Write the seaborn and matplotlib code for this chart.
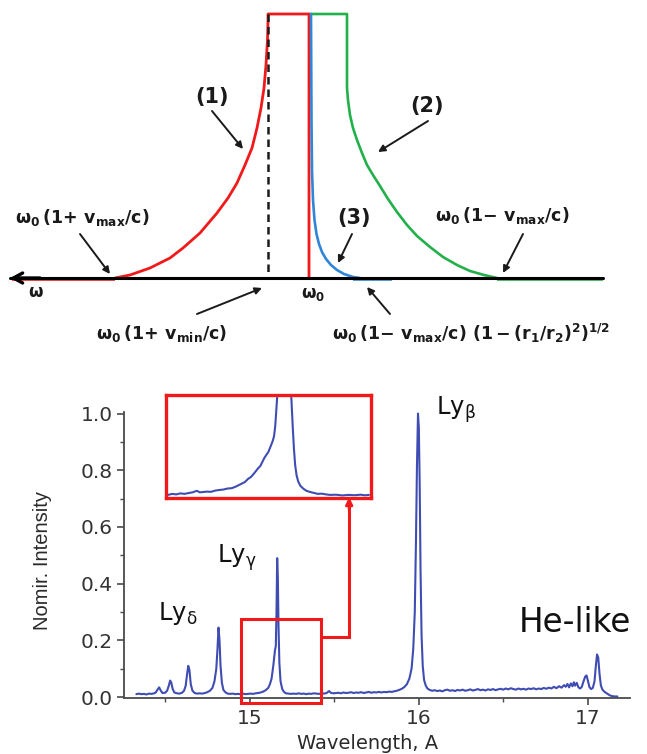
import matplotlib
matplotlib.use("Agg")
import matplotlib.pyplot as plt
import seaborn as sns
from matplotlib.patches import Rectangle
from matplotlib.ticker import MultipleLocator, FixedLocator

wavelength = [14.33, 14.345, 14.36, 14.375, 14.39, 14.405, 14.42, 14.435, 14.445,
              14.455, 14.465, 14.475, 14.485, 14.50, 14.512,
              14.522, 14.530, 14.537, 14.545, 14.555, 14.57, 14.585, 14.60, 14.612,
              14.622, 14.630, 14.637, 14.644, 14.652, 14.662, 14.675, 14.69, 14.705, 14.72,
              14.735, 14.75, 14.765, 14.78,
              14.792, 14.803, 14.810, 14.816, 14.822, 14.828, 14.836, 14.845, 14.858, 14.87,
              14.885, 14.90, 14.915, 14.93, 14.945, 14.96, 14.975, 14.99, 15.005, 15.02,
              15.035, 15.05, 15.065, 15.08, 15.095, 15.11, 15.12, 15.13, 15.14, 15.150,
              15.155, 15.159, 15.163, 15.167, 15.171, 15.176, 15.183, 15.193, 15.203, 15.215,
              15.23, 15.245, 15.26, 15.275, 15.29, 15.305, 15.32, 15.335, 15.35, 15.365,
              15.38, 15.395, 15.41, 15.425, 15.44, 15.455, 15.47, 15.48, 15.495, 15.51,
              15.525, 15.54, 15.555, 15.57, 15.585, 15.60, 15.615, 15.63, 15.645, 15.66,
              15.675, 15.69, 15.705, 15.72, 15.735, 15.75, 15.765, 15.78, 15.795, 15.81,
              15.825, 15.84, 15.855, 15.87, 15.885, 15.90, 15.915, 15.93, 15.945, 15.958,
              15.968, 15.977, 15.984, 15.990, 15.996, 16.001, 16.006, 16.011, 16.017, 16.024,
              16.032, 16.042, 16.052, 16.065, 16.08, 16.095, 16.11, 16.125, 16.14, 16.155,
              16.17, 16.185, 16.20, 16.215, 16.23, 16.245, 16.26, 16.275, 16.29, 16.305,
              16.32, 16.335, 16.35, 16.365, 16.38, 16.395, 16.41, 16.425, 16.44, 16.455,
              16.47, 16.485, 16.50, 16.515, 16.53, 16.545, 16.56, 16.575, 16.59, 16.605,
              16.62, 16.635, 16.65, 16.665, 16.68, 16.695, 16.71, 16.725, 16.74, 16.755,
              16.77, 16.785, 16.80, 16.815, 16.83, 16.845, 16.86, 16.87, 16.88, 16.89,
              16.90, 16.91, 16.918, 16.925, 16.935, 16.945, 16.955, 16.965, 16.975, 16.985,
              16.993, 17.0, 17.01, 17.02, 17.03, 17.04, 17.048, 17.055, 17.062, 17.07,
              17.078, 17.088, 17.10, 17.115, 17.13, 17.145, 17.16, 17.175]
intensity = [0.010, 0.012, 0.010, 0.011, 0.009, 0.012, 0.011, 0.013, 0.016,
             0.026, 0.034, 0.022, 0.014, 0.015, 0.022,
             0.040, 0.058, 0.050, 0.028, 0.016, 0.013, 0.012, 0.015, 0.022,
             0.040, 0.080, 0.110, 0.095, 0.045, 0.022, 0.014, 0.012, 0.013, 0.012,
             0.014, 0.017, 0.022, 0.032,
             0.055, 0.100, 0.170, 0.245, 0.200, 0.110, 0.050, 0.025, 0.016, 0.012,
             0.011, 0.012, 0.010, 0.011, 0.010, 0.012, 0.010, 0.011, 0.012, 0.011,
             0.013, 0.014, 0.016, 0.019, 0.024, 0.032, 0.045, 0.065, 0.110, 0.165,
             0.180, 0.300, 0.490, 0.420, 0.250, 0.120, 0.055, 0.028, 0.018, 0.013,
             0.012, 0.011, 0.012, 0.011, 0.013, 0.011, 0.012, 0.010, 0.012, 0.011,
             0.013, 0.012, 0.011, 0.013, 0.012, 0.014, 0.021, 0.015, 0.013, 0.014,
             0.015, 0.013, 0.016, 0.014, 0.015, 0.017, 0.014, 0.016, 0.015, 0.017,
             0.014, 0.016, 0.018, 0.015, 0.017, 0.016, 0.018, 0.016, 0.018, 0.017,
             0.019, 0.018, 0.020, 0.022, 0.025, 0.029, 0.035, 0.045, 0.065, 0.100,
             0.170, 0.300, 0.550, 0.820, 1.000, 0.950, 0.750, 0.450, 0.220, 0.110,
             0.060, 0.040, 0.030, 0.025, 0.022, 0.024, 0.021, 0.023, 0.020, 0.024,
             0.026, 0.022, 0.024, 0.021, 0.025, 0.023, 0.026, 0.022, 0.024, 0.027,
             0.023, 0.025, 0.028, 0.024, 0.026, 0.023, 0.027, 0.025, 0.028, 0.024,
             0.027, 0.029, 0.026, 0.030, 0.027, 0.031, 0.028, 0.026, 0.030, 0.027,
             0.029, 0.026, 0.030, 0.028, 0.031, 0.027, 0.030, 0.028, 0.032, 0.029,
             0.033, 0.030, 0.036, 0.031, 0.038, 0.033, 0.042, 0.036, 0.046, 0.034,
             0.048, 0.038, 0.052, 0.040, 0.050, 0.034, 0.030, 0.036, 0.055, 0.072,
             0.076, 0.060, 0.035, 0.028, 0.032, 0.055, 0.110, 0.150, 0.140, 0.080,
             0.040, 0.025, 0.018, 0.012, 0.006, 0.003, 0.002, 0.002]

# zoomed view of the Ly-gamma line (relative position / relative intensity)
inset_pos = [0.01, 0.03, 0.05, 0.07, 0.09, 0.11, 0.13, 0.15, 0.165, 0.18,
             0.20, 0.22, 0.24, 0.26, 0.28, 0.30, 0.32, 0.34, 0.355, 0.37,
             0.385, 0.40, 0.415, 0.43, 0.44, 0.45, 0.46, 0.47, 0.48, 0.49,
             0.50, 0.51, 0.52, 0.527, 0.533, 0.538, 0.543, 0.55, 0.57, 0.59,
             0.605, 0.612, 0.618, 0.624, 0.63, 0.637, 0.645, 0.655, 0.67, 0.685,
             0.70, 0.72, 0.74, 0.76, 0.78, 0.80, 0.83, 0.86, 0.89, 0.92,
             0.95, 0.97, 0.99]
inset_int = [0.030, 0.040, 0.035, 0.045, 0.040, 0.048, 0.055, 0.070, 0.055, 0.058,
             0.062, 0.060, 0.072, 0.078, 0.082, 0.092, 0.095, 0.110, 0.125, 0.140,
             0.155, 0.185, 0.205, 0.240, 0.265, 0.290, 0.310, 0.350, 0.390, 0.420,
             0.450, 0.500, 0.550, 0.600, 0.700, 0.850, 1.000, 1.200, 1.300, 1.300,
             1.150, 0.950, 0.700, 0.480, 0.320, 0.220, 0.160, 0.120, 0.090, 0.070,
             0.060, 0.050, 0.040, 0.042, 0.035, 0.030, 0.032, 0.025, 0.030, 0.027,
             0.032, 0.026, 0.030]

x_ticks = [15, 16, 17]
y_ticks = [0.0, 0.2, 0.4, 0.6, 0.8, 1.0]
y_ticklabels = ["0.0", "0.2", "0.4", "0.6", "0.8", "1.0"]

# ---------------- data: schematic line profiles (diagram units) ----------------
prof1_x = [115, 130, 150, 170, 183, 200, 217, 228, 237, 245, 252, 257, 261, 264,
           266, 267.5, 268, 268, 309, 309]
prof1_y = [278, 275, 268, 258, 248, 233, 213, 198, 183, 165, 148, 128, 108, 88,
           65, 40, 22, 14, 14, 278]
prof2_x = [309, 347, 347, 348, 350, 353, 357, 362, 367, 373, 380, 388, 397, 407,
           417, 430, 443, 457, 470, 484, 497]
prof2_y = [14, 14, 88, 100, 115, 128, 140, 153, 165, 175, 186, 199, 212, 225,
           236, 247, 257, 265, 271, 275, 278]
prof3_x = [311, 311.5, 312, 313, 314.5, 316.5, 319, 322, 326, 331, 337, 344, 353, 360]
prof3_y = [14, 120, 170, 200, 220, 234, 244, 252, 259, 265, 270, 274, 277, 278]
axis_x = [603, 10]
axis_y = [278, 278]
vmin_x = [268, 268]
vmin_y = [14, 278]

BLUE = "#3f4db3"
RED = "#f01a1a"
GREEN = "#22b04a"
LBLUE = "#2f86d8"
DARK = "#1a1a1a"

sns.set_theme(style="ticks")
plt.rcParams["font.family"] = ["DejaVu Sans"]
plt.rcParams["mathtext.fontset"] = "custom"
plt.rcParams["mathtext.rm"] = "DejaVu Sans:bold"
plt.rcParams["mathtext.it"] = "DejaVu Sans:bold"
plt.rcParams["mathtext.bf"] = "DejaVu Sans:bold"

W, H = 647, 754
fig = plt.figure(figsize=(W / 100, H / 100), dpi=100)

# ================= top schematic =================
axt = fig.add_axes([0, 1 - 345 / H, 1, 345 / H])
axt.set_xlim(0, W)
axt.set_ylim(345, 0)
axt.axis("off")

axt.plot([12, 115], [279, 279], color=RED, lw=2.6, solid_capstyle="butt")
axt.plot([497, 603], [279, 279], color=GREEN, lw=2.6, solid_capstyle="butt")
axt.plot([353, 392], [279, 279], color=LBLUE, lw=2.6, solid_capstyle="butt")
axt.plot(prof2_x, prof2_y, color=GREEN, lw=1.9)
axt.plot(prof1_x, prof1_y, color=RED, lw=2.0)
axt.plot(prof3_x, prof3_y, color=LBLUE, lw=1.9)
axt.plot(vmin_x, vmin_y, color=DARK, lw=1.8, dashes=(3, 2))
axt.plot(axis_x, axis_y, color="black", lw=2.2)
axt.annotate("", xy=(axis_x[1], axis_y[1]), xytext=(axis_x[1] + 30, axis_y[1]),
             arrowprops=dict(arrowstyle="->,head_length=0.55,head_width=0.3",
                             lw=2.4, color="black", shrinkA=0, shrinkB=0))

tk = dict(color=DARK, ha="center", va="center")
axt.text(36, 292, r"$\omega$", fontsize=12, **tk)
axt.text(313, 294, r"$\omega_0$", fontsize=12, **tk)
axt.text(82, 218, r"$\omega_0\,(1\!+\,v_{max}/c)$", fontsize=12.5, **tk)
axt.text(502, 215, r"$\omega_0\,(1\!-\,v_{max}/c)$", fontsize=12.5, **tk)
axt.text(162, 333, r"$\omega_0\,(1\!+\,v_{min}/c)$", fontsize=12.5, **tk)
axt.text(471, 333, r"$\omega_0\,(1\!-\,v_{max}/c)\ (1-(r_1/r_2)^2)^{1/2}$", fontsize=12.5, **tk)
axt.text(212, 97, "(1)", fontsize=15, fontweight="bold", **tk)
axt.text(427, 106, "(2)", fontsize=15, fontweight="bold", **tk)
axt.text(354, 218, "(3)", fontsize=15, fontweight="bold", **tk)

arrows = [((212, 111), (243, 149)), ((428, 121), (378, 152)), ((352, 234), (338, 263)),
          ((80, 234), (110, 274)), ((523, 234), (503, 273)), ((197, 314), (262, 288)),
          ((390, 314), (367, 287))]
for (x0, y0), (x1, y1) in arrows:
    axt.annotate("", xy=(x1, y1), xytext=(x0, y0),
                 arrowprops=dict(arrowstyle="-|>", lw=1.4, color=DARK,
                                 mutation_scale=10, shrinkA=0, shrinkB=0))

# ================= bottom spectrum =================
x0px, x1px, ytop, ybot = 124, 630, 412, 698
ax = fig.add_axes([x0px / W, 1 - ybot / H, (x1px - x0px) / W, (ybot - ytop) / H])
sns.lineplot(x=wavelength, y=intensity, ax=ax, color=BLUE, lw=1.5,
             sort=False, estimator=None)
ax.set_xlim(14.257, 17.25)
ax.set_ylim(-0.0035, 1.0056)
sns.despine(ax=ax)
for s in ("left", "bottom"):
    ax.spines[s].set_color("#4a4a4a")
    ax.spines[s].set_linewidth(1.3)
ax.xaxis.set_major_locator(FixedLocator(x_ticks))
ax.xaxis.set_minor_locator(MultipleLocator(0.5))
ax.set_yticks(y_ticks)
ax.set_yticklabels(y_ticklabels)
ax.yaxis.set_minor_locator(MultipleLocator(0.1))
ax.tick_params(which="major", direction="out", length=5, width=1.2, color="#4a4a4a",
               labelsize=14.5, labelcolor="#333333", pad=3)
ax.tick_params(which="minor", direction="out", length=3, width=1.0, color="#4a4a4a")
ax.set_xlabel("Wavelength, A", fontsize=14, color="#2a2a2a")
ax.xaxis.set_label_coords(0.482, -0.125)
ax.set_ylabel("Nomir. Intensity", fontsize=14.5, color="#2a2a2a", family="Liberation Sans")
ax.yaxis.set_label_coords(-0.142, 0.48)

lk = dict(color="#111111", math_fontfamily="dejavusans", ha="left", va="baseline")
ax.text(16.10, 0.995, r"Ly$_{\mathrm{\beta}}$", fontsize=17.5, **lk)
ax.text(14.81, 0.473, r"Ly$_{\mathrm{\gamma}}$", fontsize=17.5, **lk)
ax.text(14.46, 0.272, r"Ly$_{\mathrm{\delta}}$", fontsize=17.5, **lk)
ax.text(16.59, 0.229, "He-like", fontsize=23.5, color="#111111", ha="left", va="baseline")

# selection box around the Ly-gamma line
ax.add_patch(Rectangle((14.95, -0.021), 0.47, 0.296, fill=False, ec=RED, lw=2.2,
                       clip_on=False, zorder=5))
ax.plot([15.42, 15.589, 15.589], [0.212, 0.212, 0.68], color=RED, lw=2.2,
        clip_on=False, zorder=5, solid_joinstyle="miter")
ax.annotate("", xy=(15.589, 0.705), xytext=(15.589, 0.66),
            arrowprops=dict(arrowstyle="-|>", color=RED, lw=2.0, mutation_scale=10,
                            shrinkA=0, shrinkB=0), annotation_clip=False, zorder=6)

# inset
axi = fig.add_axes([166 / W, 1 - 498 / H, 205 / W, 103 / H])
sns.lineplot(x=inset_pos, y=inset_int, ax=axi, color=BLUE, lw=1.5,
             sort=False, estimator=None)
axi.set_xlim(0, 1)
axi.set_ylim(0, 1)
axi.set_xticks([])
axi.set_yticks([])
axi.set_xlabel("")
axi.set_ylabel("")
axi.set_facecolor("white")
for s in axi.spines.values():
    s.set_visible(True)
    s.set_color(RED)
    s.set_linewidth(2.4)

fig.savefig("out.png", dpi=100)
